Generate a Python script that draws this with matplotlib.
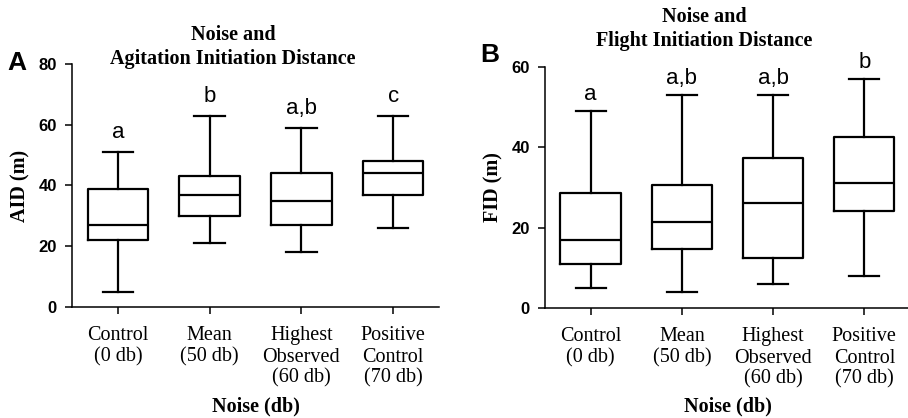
import matplotlib
matplotlib.use("Agg")
import matplotlib.pyplot as plt

groups = ["Control\n(0 db)", "Mean\n(50 db)", "Highest\nObserved\n(60 db)", "Positive\nControl\n(70 db)"]

# panel A: agitation initiation distance (m)
aid_low = [5, 21, 18, 26]
aid_q1 = [22, 30, 27, 37]
aid_med = [27, 37, 35, 44]
aid_q3 = [39, 43, 44, 48]
aid_high = [51, 63, 59, 63]
aid_letters = ["a", "b", "a,b", "c"]

# panel B: flight initiation distance (m)
fid_low = [5, 4, 6, 8]
fid_q1 = [11, 14.7, 12.5, 24]
fid_med = [17, 21.5, 26, 31]
fid_q3 = [28.5, 30.5, 37.3, 42.5]
fid_high = [49, 53, 53, 57]
fid_letters = ["a", "a,b", "a,b", "b"]

serif = "Liberation Serif"
sans = "Liberation Sans"

fig = plt.figure(figsize=(9.08, 4.18), dpi=100)
axA = fig.add_axes([0.0793, 0.2656, 0.4042, 0.5813])
axB = fig.add_axes([0.6002, 0.2632, 0.4020, 0.5773])


def panel(ax, low, q1, med, q3, high, letters, ymax, yticks, off, ylabel):
    stats = []
    for i in range(len(low)):
        stats.append(dict(whislo=low[i], q1=q1[i], med=med[i], q3=q3[i], whishi=high[i], fliers=[]))
    pos = list(range(1, len(low) + 1))
    lw = 1.6
    ax.bxp(stats, positions=pos, widths=0.66, showfliers=False,
           boxprops=dict(color="black", linewidth=lw),
           medianprops=dict(color="black", linewidth=lw),
           whiskerprops=dict(color="black", linewidth=lw),
           capprops=dict(color="black", linewidth=lw))
    for i in range(len(low)):
        ax.text(pos[i], high[i] + off, letters[i], ha="center", va="bottom",
                fontsize=16, family=sans)
    ax.set_xlim(0.5, 4.5)
    ax.set_ylim(0, ymax)
    ax.set_yticks(yticks)
    ax.set_xticks(pos)
    ax.set_xticklabels(groups, fontsize=14.5, family=serif, linespacing=1.15)
    for t in ax.get_yticklabels():
        t.set_family(sans)
        t.set_fontweight("bold")
        t.set_fontsize(12)
    ax.spines["top"].set_visible(False)
    ax.spines["right"].set_visible(False)
    ax.spines["left"].set_linewidth(1.1)
    ax.spines["bottom"].set_linewidth(1.1)
    ax.tick_params(axis="both", direction="out", length=5, width=1.1)
    ax.tick_params(axis="y", pad=6)
    ax.tick_params(axis="x", pad=9)
    ax.set_ylabel(ylabel, family=serif, fontweight="bold", fontsize=14.5, labelpad=6)
    ax.set_xlabel("Noise (db)", family=serif, fontweight="bold", fontsize=14.5, va="center")
    ax.xaxis.set_label_coords(0.5, -0.41)


panel(axA, aid_low, aid_q1, aid_med, aid_q3, aid_high, aid_letters, 80, [0, 20, 40, 60, 80], 3.0, "AID (m)")
panel(axB, fid_low, fid_q1, fid_med, fid_q3, fid_high, fid_letters, 60, [0, 20, 40, 60], 1.4, "FID (m)")

fig.text(233 / 908, 1 - 47 / 418, "Noise and\nAgitation Initiation Distance", ha="center", va="center",
         family=serif, fontweight="bold", fontsize=14.5, linespacing=1.3)
fig.text(704 / 908, 1 - 29 / 418, "Noise and\nFlight Initiation Distance", ha="center", va="center",
         family=serif, fontweight="bold", fontsize=14.5, linespacing=1.3)
fig.text(17 / 908, 1 - 63 / 418, "A", ha="center", va="center", family=sans, fontweight="bold", fontsize=19)
fig.text(490 / 908, 1 - 55 / 418, "B", ha="center", va="center", family=sans, fontweight="bold", fontsize=19)

fig.savefig("out.png", dpi=100)
